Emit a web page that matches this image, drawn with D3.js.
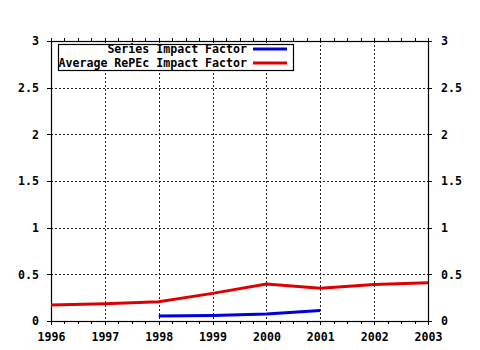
<!DOCTYPE html>
<html>
<head>
<meta charset="utf-8">
<script src="https://cdn.jsdelivr.net/npm/d3@7"></script>
<style>
  html, body { margin: 0; padding: 0; background: #fff; }
  svg text { font-family: "DejaVu Sans Mono", "Liberation Mono", monospace; font-weight: bold; font-size: 11.6px; fill: #000; }
</style>
</head>
<body>
<svg id="chart" width="480" height="350"></svg>
<script>
// Impact factor series by year
const years = [1996, 1997, 1998, 1999, 2000, 2001, 2002, 2003];
const averageRePEc = [0.171, 0.185, 0.207, 0.296, 0.396, 0.35, 0.39, 0.41];
const seriesYears = [1998, 1999, 2000, 2001];
const seriesImpact = [0.054, 0.06, 0.075, 0.112];
const yTicks = [0, 0.5, 1, 1.5, 2, 2.5, 3];
const yTickLabels = ["0", "0.5", "1", "1.5", "2", "2.5", "3"];
const legendLabels = ["Series Impact Factor", "Average RePEc Impact Factor"];
const legendColors = ["#0000dd", "#dd0000"];

const svg = d3.select("#chart");
const plot = { left: 51, right: 428, top: 41, bottom: 321 };

const x = d3.scaleLinear().domain([1996, 2003]).range([plot.left, plot.right]);
const y = d3.scaleLinear().domain([0, 3]).range([plot.bottom, plot.top]);

// Dotted grid at the major ticks
const grid = svg.append("g").attr("stroke", "#222").attr("stroke-width", 1)
  .attr("stroke-dasharray", "2,2").attr("shape-rendering", "crispEdges");
years.slice(1, -1).forEach(yr => {
  grid.append("line").attr("x1", Math.round(x(yr)) + 0.5).attr("x2", Math.round(x(yr)) + 0.5)
    .attr("y1", plot.top).attr("y2", plot.bottom);
});
yTicks.slice(1, -1).forEach(v => {
  grid.append("line").attr("y1", Math.round(y(v)) + 0.5).attr("y2", Math.round(y(v)) + 0.5)
    .attr("x1", plot.left).attr("x2", plot.right);
});

// Axes: left and right value scales, year scale top and bottom with quarter-year minor ticks
const minor = d3.range(1996, 2003.001, 0.25);
const xBottom = d3.axisBottom(x).tickValues(minor).tickSize(3).tickFormat("");
const xTop = d3.axisTop(x).tickValues(minor).tickSize(3).tickFormat("");
const xBottomMajor = d3.axisBottom(x).tickValues(years).tickSize(4).tickPadding(8).tickFormat(d3.format("d"));
const yLeft = d3.axisLeft(y).tickValues(yTicks).tickSize(4).tickPadding(8).tickFormat((d, i) => yTickLabels[i]);
const yRight = d3.axisRight(y).tickValues(yTicks).tickSize(4).tickPadding(9).tickFormat((d, i) => yTickLabels[i]);

function styleAxis(g) {
  g.attr("font-family", null).attr("font-size", null);
  g.selectAll(".domain").remove();
  g.selectAll("line").attr("stroke", "#000").attr("shape-rendering", "crispEdges");
}
svg.append("g").attr("transform", `translate(0,${plot.bottom})`).call(xBottom).call(styleAxis);
svg.append("g").attr("transform", `translate(0,${plot.top})`).call(xTop).call(styleAxis);
svg.append("g").attr("transform", `translate(0,${plot.bottom})`).call(xBottomMajor).call(styleAxis);
svg.append("g").attr("transform", `translate(${plot.left},0)`).call(yLeft).call(styleAxis);
svg.append("g").attr("transform", `translate(${plot.right},0)`).call(yRight).call(styleAxis);

// Plot frame
svg.append("rect").attr("x", plot.left + 0.5).attr("y", plot.top + 0.5)
  .attr("width", plot.right - plot.left).attr("height", plot.bottom - plot.top)
  .attr("fill", "none").attr("stroke", "#000").attr("stroke-width", 1.2);

// Lines
const line = d3.line().x(d => x(d[0])).y(d => y(d[1]));
svg.append("path").datum(years.map((yr, i) => [yr, averageRePEc[i]]))
  .attr("d", line).attr("fill", "none").attr("stroke", legendColors[1]).attr("stroke-width", 3);
svg.append("path").datum(seriesYears.map((yr, i) => [yr, seriesImpact[i]]))
  .attr("d", line).attr("fill", "none").attr("stroke", legendColors[0]).attr("stroke-width", 3);

// Legend
const legend = svg.append("g");
legend.append("rect").attr("x", 58.5).attr("y", 44.5).attr("width", 235).attr("height", 26)
  .attr("fill", "#fff").attr("stroke", "#000").attr("stroke-width", 1.2);
legendLabels.forEach((label, i) => {
  const ly = 49 + i * 14;
  legend.append("text").attr("x", 247).attr("y", ly).attr("dy", "0.35em")
    .attr("text-anchor", "end").text(label);
  legend.append("line").attr("x1", 253).attr("x2", 287).attr("y1", ly).attr("y2", ly)
    .attr("stroke", legendColors[i]).attr("stroke-width", 3);
});
</script>
</body>
</html>
